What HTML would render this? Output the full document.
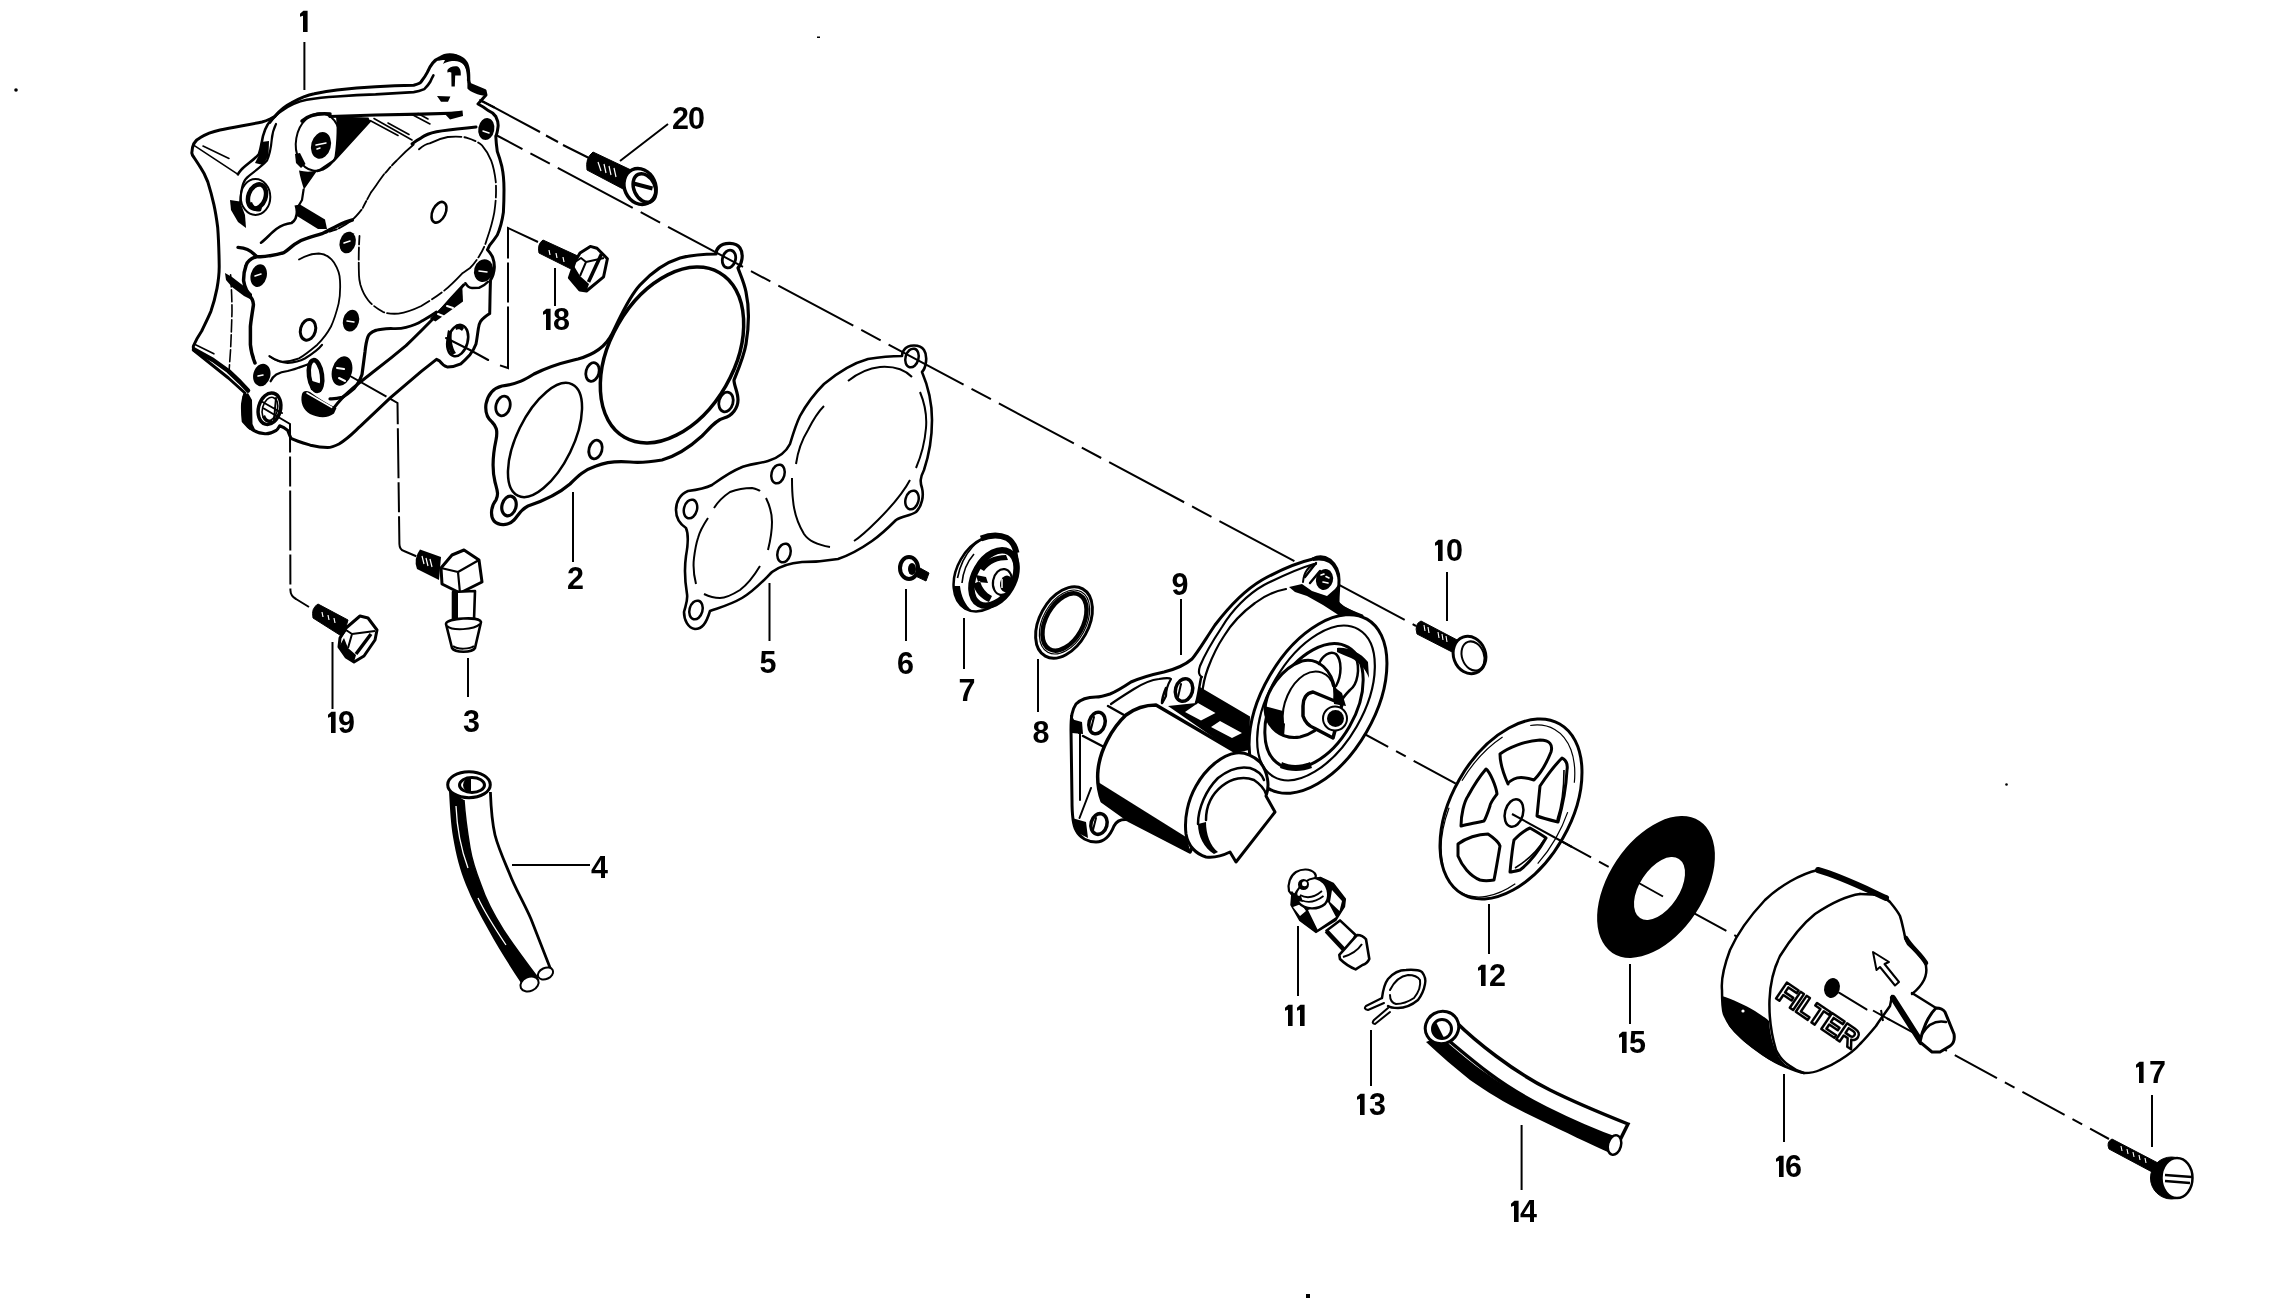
<!DOCTYPE html>
<html><head><meta charset="utf-8"><style>
html,body{margin:0;padding:0;background:#fff;}
body{width:2287px;height:1315px;overflow:hidden;}
svg{display:block;filter:grayscale(1);}
text{font-family:"Liberation Sans",sans-serif;font-weight:bold;font-size:30.5px;fill:#000;text-anchor:middle;letter-spacing:-1px;}
</style></head><body>
<svg width="2287" height="1315" viewBox="0 0 2287 1315">
<rect width="2287" height="1315" fill="#fff"/>
<g id="dots" fill="#000">
<rect x="817" y="36.5" width="3" height="1.5"/>
<circle cx="16" cy="90" r="1.8"/>
<rect x="1306" y="1294" width="4" height="4"/>
<circle cx="2006.5" cy="784.5" r="1.3"/>
</g>
<g id="labels">
<text x="575" y="589">2</text>
<text x="471" y="732">3</text>
<text x="599" y="878">4</text>
<text x="767.5" y="673">5</text>
<text x="905" y="674">6</text>
<text x="966.5" y="701">7</text>
<text x="1040.5" y="743">8</text>
<text x="1179.5" y="595">9</text>
<text x="688" y="129">20</text>
<text x="1462" y="561" style="text-anchor:end">0</text>
<text x="1505" y="986" style="text-anchor:end">2</text>
<text x="1385" y="1115" style="text-anchor:end">3</text>
<text x="1536" y="1222" style="text-anchor:end">4</text>
<text x="1645" y="1053" style="text-anchor:end">5</text>
<text x="1801" y="1177" style="text-anchor:end">6</text>
<text x="2165" y="1083" style="text-anchor:end">7</text>
<text x="569" y="330" style="text-anchor:end">8</text>
<text x="354" y="733" style="text-anchor:end">9</text>
<g fill="#000"><path d="M300.0 13.7 L303.4 10.7 L307.6 10.7 L307.6 32 L303.0 32 L303.0 15.7 L300.0 16.7Z"/><path d="M1435.0 542.7 L1438.4 539.7 L1442.6 539.7 L1442.6 561 L1438.0 561 L1438.0 544.7 L1435.0 545.7Z"/><path d="M1285.0 1007.7 L1288.4 1004.7 L1292.6 1004.7 L1292.6 1026 L1288.0 1026 L1288.0 1009.7 L1285.0 1010.7Z"/><path d="M1297.0 1007.7 L1300.4 1004.7 L1304.6 1004.7 L1304.6 1026 L1300.0 1026 L1300.0 1009.7 L1297.0 1010.7Z"/><path d="M1478.0 967.7 L1481.4 964.7 L1485.6 964.7 L1485.6 986 L1481.0 986 L1481.0 969.7 L1478.0 970.7Z"/><path d="M1357.0 1096.7 L1360.4 1093.7 L1364.6 1093.7 L1364.6 1115 L1360.0 1115 L1360.0 1098.7 L1357.0 1099.7Z"/><path d="M1511.0 1203.7 L1514.4 1200.7 L1518.6 1200.7 L1518.6 1222 L1514.0 1222 L1514.0 1205.7 L1511.0 1206.7Z"/><path d="M1619.0 1034.7 L1622.4 1031.7 L1626.6 1031.7 L1626.6 1053 L1622.0 1053 L1622.0 1036.7 L1619.0 1037.7Z"/><path d="M1776.0 1158.7 L1779.4 1155.7 L1783.6 1155.7 L1783.6 1177 L1779.0 1177 L1779.0 1160.7 L1776.0 1161.7Z"/><path d="M2136.0 1064.7 L2139.4 1061.7 L2143.6 1061.7 L2143.6 1083 L2139.0 1083 L2139.0 1066.7 L2136.0 1067.7Z"/><path d="M543.0 311.7 L546.4 308.7 L550.6 308.7 L550.6 330 L546.0 330 L546.0 313.7 L543.0 314.7Z"/><path d="M328.0 714.7 L331.4 711.7 L335.6 711.7 L335.6 733 L331.0 733 L331.0 716.7 L328.0 717.7Z"/></g>
</g>
<g id="leaders" stroke="#000" stroke-width="2" fill="none">
<path d="M304.4 42V90M620 161L668 124M555 268V306M573 492V562M332.5 642V709M468 658V697M512 865H590M769.5 583V641M906 589V641M964 618V669M1038 659V712M1181 599V655M1447 572V621M1298 926V996M1489 904V954M1371 1030V1086M1521.6 1125V1190M1630 964V1024M1784 1074V1142M2152 1095V1147"/>
</g>
<g id="dashes" stroke="#000" stroke-width="2" fill="none">
<path d="M456 87 L540 132 M546 135.5 L558 142 M563 145 L590 158.5"/>
<path d="M496 135L1416 626" stroke-dasharray="85 9 22 9" stroke-dashoffset="55"/>
<path d="M1346 724L2109 1139" stroke-dasharray="48 9 11 9"/>
</g>


<g id="part1" stroke="#000" fill="none" stroke-linejoin="round" stroke-linecap="round">
<path fill="#fff" stroke-width="3" d="M191.8 153 C192 146 195 140 200 137.8 C206 134 212 131.7 220 130 C235 127 250 124.5 262 122 C266 121 268 120 270 119 L274.7 116.5 C280 110 285 106 291.5 102.8 C300 98 307 95 314.3 93.7 C325 91.5 332 90.5 337 89.9 C350 88.5 360 87.6 375.6 86.8 C390 86 405 85.5 413.7 85.3 C418 84 421 82.5 421.3 81.5 C424 78 426 75 427.3 72.4 C430 66 434 60 439.5 58 C444 55 448 54.5 451.7 54.9 C456 55.5 459 57 460.8 58.7 C464 62 466 64 467 67.8 C468.5 72 468.6 76 468.4 80 C469 82 469.5 83.5 470 84.5 L485 90.6 L486 95 L478 104 C482 106 485 108 488 110.4 C492 112 494 114 495.8 116.5 C497.5 120 498.5 124 498 127 C497.5 131 497 134 495.8 136.3 C496 141 496.5 146 497.3 151.5 C499 156 500.5 161 501.9 166.7 C503.5 174 504 182 504 189.5 C504 197 503.8 205 503.4 212.3 C502 222 500 229 497.3 235 C494 240 491.5 243 489.7 245.2 L487.4 249.8 C489.5 252 491.5 254.5 492.7 257.4 C494 261 494.5 265 494.3 268 C494 273 492.5 277 490.5 280.2 C490 292 490 303 489.7 313.6 C486 316 483 318 480.6 321.3 C479 324 478.5 326 478.3 329 C477.5 334 477 339 476 344 C474.5 348 472.5 351.5 470 354.7 C467 358 464 361 460.8 363.8 C456 366 451 367 447.1 366.9 C444 366 441.5 363.5 439.5 360.8 L436.5 359.3 L421.3 371.4 L390.8 397.3 L360.4 426.2 C355 431 349 438 339 444 C335 446 331 447.5 327.6 447.5 C322 447.5 316 446.5 310.5 445.2 C303 443 296 441 291 438.4 C289.5 435 288.5 432.5 287.7 430.4 C285 428 282 426.5 279.7 425.8 C278.5 428 277.5 429.5 276.3 430.4 C272 433 268 434 265 433.8 C261 433.5 257 432.5 253.5 430.4 C249 428 246 425 243.2 421.3 C242.5 415 242.3 409 242.5 404 C243 399 244 396 245 393 L228.4 378 L194 350.5 C193.3 349 193.2 347.5 193.4 346 C196 340 199 335 201.7 331 C205 324 208 318 210.9 311.3 C213.5 304 215.5 296 217 288.4 C218.5 280 219.3 272 219.2 265.6 C219 250 218.5 238 217.7 227.5 C216.5 218 215.3 211 213.9 204.7 C212 196 210 189 207.8 181.9 C205.5 176 203 171 200 166.7 C198 163.5 196 160.5 194 157.5 C192.8 156 192 154.5 191.8 153Z"/>
<!-- bracket lines -->
<path stroke-width="2.6" d="M270 122.6 C274 117 278 113 282.3 110.4 C290 105 298 101.5 306.7 99.8 C318 97.8 328 97 337 96.5 C350 95.5 362 94.8 375.6 94.4 C390 93.6 402 92.8 413.7 92.1 C418 91.5 421 90.5 424.3 89.1 C427 86.5 429 84 430.4 81.5 C431.5 79 432.5 77 433.4 75.4"/>
<path stroke-width="2.6" d="M274.7 116.5 C269 121 265 128 263 136 C261.5 143 261 148 259 154 C256 158 250 162 243 168 C240 171 238.5 173 238 174.3"/>
<path stroke-width="2.2" d="M276 124 C273 130 272 136 271.7 140 C271 148 270 154 267 160.6 C264 164 258 169 249 175.8 C246 178 244 181 243 184 C241 190 240.5 197 240 204.7"/>
<path fill="#000" stroke="none" d="M261 142 L269 141 L268.5 156 L263 165 L255 163 L259 155Z"/>
<path stroke-width="1.6" d="M194 145.4 L238 174.3 M203 146 L229 158.5"/>
<path stroke-width="3.2" d="M330 116.5 L375.6 115 L421.3 114.2 L459.3 113"/>
<path fill="#000" stroke="none" d="M444 113 L462.5 110.5 L463 116 L450 119.5Z"/>
<!-- ear -->
<path fill="#000" stroke="none" d="M438 58.4 C442 55 448 53.3 454 53.8 C460 54.8 465 58 467.5 62 C469.8 66 470.6 72 470.3 81.5 L467.5 81.5 C467.5 74 466.5 68.5 464 65 C461 61.5 457 60.5 452 61 C448 61.5 445 62.5 443 64 L445 60 C442 60 440 60 438.5 61Z M447.4 70 C449 67 453 65.8 457 66.3 C460 67.3 461.2 71 460.8 75.4 L455.2 75.4 L454.8 86.5 L451.5 86.5 L451.3 72.5 C450 71.8 448.7 71.8 447.4 72.5Z M437 96 L450.4 96.5 L448 101.8 L441 101.8Z M467.4 81.5 C472 86 478 89.5 485.7 91.5 L485.7 95.8 C478 95 471 92.5 467.4 88.5Z M479 99 L495 106.5 L494 108.5 L480 101.5Z"/>
<!-- upper boss -->
<ellipse cx="318" cy="142" rx="22" ry="29" transform="rotate(10 318 142)" stroke-width="2"/>
<path stroke-width="3.5" d="M302 121 C308 115.5 318 113 330 114"/>
<ellipse cx="321" cy="145.4" rx="9.8" ry="13.5" transform="rotate(15 321 145.4)" fill="#000" stroke="none"/>
<path stroke="#fff" stroke-width="1.5" d="M316 145 L326 143 M317 149 L320 148"/>
<path fill="#000" stroke="none" d="M295 154 L300 153 L305.5 164 L301 168 L296 163Z"/>
<path fill="#000" stroke="none" d="M299 170.5 C305 172 311 172 317.3 170.5 L304 189.5 C302 183 300 177 299 170.5Z"/>
<path fill="#000" stroke="none" d="M336 116.5 L368.5 117.5 L370 121 L334 160.5 C336 148 337.5 130 336 116.5Z"/>
<path stroke-width="2.5" d="M370 121 L334 160.5 L320 170 L317.3 171"/>
<path stroke-width="1.6" d="M371 121 L398 135.5 M374 118.5 L412 140 M388 123 L409 134.5 M412 114.5 L430 124 M418 113.5 L428 119"/>
<!-- left boss -->
<ellipse cx="255.5" cy="197" rx="14.8" ry="18" stroke-width="2"/>
<ellipse cx="257" cy="196.5" rx="8.5" ry="12.5" transform="rotate(20 257 196.5)" stroke-width="4.5"/>
<path fill="#000" stroke="none" d="M249 203 C251 210 256 213 261 211 L262 207.5 C258 209 254 207 252 202Z"/>
<path fill="#000" stroke="none" d="M230 200 L240 201.5 L245 215 L246 228 L238 222 L231 210Z"/>
<!-- cylinder area -->
<path stroke-width="2.2" d="M303.6 189.5 L302 200 L297.5 207.7"/>
<path fill="#000" stroke="none" d="M294.5 205.5 L300 204.5 L325 219.5 L327 229 L318 229 L297 216Z"/>
<path stroke-width="1.8" stroke-dasharray="30 2 8 2" d="M413.7 144.5 C407 150 401 156 396.7 160.5 C392 165 388 170 384 174.3 C379 181 375 187 371 192.4 C368 198 365 203 362.6 208.4 C359 213 356 217 352 220 C347 224 342 227 336 229.7 C332 231 328 232 325.3 232.9"/>
<path stroke-width="2.6" d="M261 242.7 C266 239 271 233 276.3 229 C282 225 287 223.5 291.5 223 C295 221 297 216 297 210"/>
<path stroke-width="3.4" d="M238 247.4 C245 248 250 249.5 256.5 256.5 C262 257 266 256.5 270 255.7 C276 255 280 254 283.9 252.7 C288 250 291 247 294.5 244.3 C299 241 302 239.5 306.7 238.3 C313 236.5 318 235 322 233.7 C328 231 332 228.5 337 226 C343 223 348 221 352.3 220"/>
<!-- big cover -->
<path stroke-width="3" d="M476 127 L467 127.9 C455 129 445 130 436.5 131.7 C430 133 425 135 421.3 137.8 C418 139.5 415 141.5 412 143.9"/>
<path stroke-width="1.8" stroke-dasharray="45 3 12 3" d="M419 149.3 C424 145 428 143.5 429.7 143.4 C436 140 442 138 447.8 137 C455 136.5 462 136.5 467 137.8 C474 140 478 142 482 145.4 C486 150 489 155 491.2 160.6 C494 168 495 175 495.8 181.9 C496.5 195 495.5 204 494.3 212.3 C492 225 489 233 486.7 239.7 C484 250 476 262 470 268 C466 271 464 272 462.3 273.3 C455 281 450 286 444 290.8 C436 297 428 302 421.3 306 C413 310 406 312.5 398.4 313.6 C392 314 387 313.5 383.2 312 C376 308 371 304 368 300 C364 295 362 290 360.4 284.8 C359.5 281 359 278 359 275.6 C358.5 262 358.7 248 359.5 236"/>
<ellipse cx="439" cy="212.3" rx="6.5" ry="11" transform="rotate(25 439 212.3)" stroke-width="2.6"/>
<ellipse cx="486.3" cy="129" rx="8" ry="11" transform="rotate(10 486.3 129)" fill="#000" stroke="none"/>
<path stroke="#fff" stroke-width="1.5" d="M483 131 L489 133"/>
<ellipse cx="483.6" cy="270.7" rx="9.5" ry="11.5" transform="rotate(15 483.6 270.7)" fill="#000" stroke="none"/>
<path stroke="#fff" stroke-width="1.5" d="M479 271 L487 272"/>
<path stroke-width="2.5" d="M465.4 283.2 C467 286 469 288 472 288 L479 287.8 C483 286 486 284 488 281.7"/>
<!-- small cover -->
<path stroke-width="3.5" d="M256.5 256.5 C250 259 247 262 246 265.6 C244 271 243.5 276 243.6 280.8 C245 290 249 295 252 299 C253 301 253.5 303 253.4 305 C252 315 251 320 250.4 326.5 L250.4 344.7 C251 352 253 358 255 363"/>
<path stroke-width="1.8" d="M299 259.5 C305 256 312 253.5 318.8 253.5 C326 254 331 258 334 262.6 C338 269 340 275 340 280.8 C340.5 290 340 297 338.6 303.6 C336.5 312 334 320 331 326.5 C327 334 322 340 317.3 344.7 C311 350 305 355 299 358.4 C292 361 285 362 279.3 361.4 C276 360.5 273 359 270.2 356.9"/>
<ellipse cx="258.7" cy="275.6" rx="8" ry="11.5" transform="rotate(15 258.7 275.6)" fill="#000" stroke="none"/>
<ellipse cx="347.7" cy="242.5" rx="8" ry="11" transform="rotate(15 347.7 242.5)" fill="#000" stroke="none"/>
<ellipse cx="351" cy="320.7" rx="8" ry="11" transform="rotate(15 351 320.7)" fill="#000" stroke="none"/>
<ellipse cx="261.8" cy="375" rx="8.5" ry="11.5" transform="rotate(15 261.8 375)" fill="#000" stroke="none"/>
<path stroke="#fff" stroke-width="1.5" d="M255 276 L261 274 M344 243 L350 241 M347 321 L354 322 M258 376 L263 375"/>
<ellipse cx="308" cy="329.8" rx="7.5" ry="10.5" transform="rotate(15 308 329.8)" stroke-width="3"/>
<path fill="#000" stroke="none" d="M225 273 L232 277 L245 287 L252 294 L252 300 L244 296 L232 287 L226 280Z"/>
<path stroke-width="1.6" stroke-dasharray="12 3" d="M230.6 274.8 C231.5 290 232 300 232 311.3 C231.5 330 231 340 230.6 349.3 L229 372"/>
<path stroke-width="1.6" d="M195.6 344.7 L213.9 353.8"/>
<path stroke-width="4.5" d="M194 349.5 L213 360 L228.4 371 L240 382 L248 390.5"/>
<!-- bottom features -->
<path stroke-width="3.2" d="M375.6 330.4 C371 332 369 334 368 336.5 C366 342 365.5 347 365 351.7 L362 374.5 C360 380 358 384 354.3 388.2 C350 392 346 395 342.2 397.3 C338 398.5 334 399 330 398.8"/>
<path stroke-width="2.8" d="M375.6 330.4 C381 329 385 328.8 390.8 328.5 C397 329 402 328.5 406 327.3 C413 325.5 418 323.5 421.3 321.3 C427 318 431 316 436.5 312"/>
<path stroke-width="2.2" d="M270.6 381.3 C272 378 274 376 276.3 374.5 C280 372.5 284 371.5 287.7 371 C292 370 296 369 299 367.6 C302 366.5 305 365.5 308.2 364.2"/>
<path stroke-width="2.2" d="M269.4 356.2 C275 360 281 362.5 287.7 363 C294 362.5 300 361 304.8 358.5 C312 354 318 350 322 344.8"/>
<ellipse cx="315.5" cy="375.5" rx="6.5" ry="15.5" transform="rotate(-8 315.5 375.5)" stroke-width="4.5"/>
<path fill="#000" stroke="none" d="M309 380 L322 384 L321 392 L311 390Z"/>
<ellipse cx="342" cy="371" rx="10" ry="15" transform="rotate(15 342 371)" fill="#000" stroke="none"/>
<path stroke="#fff" stroke-width="2" d="M337 368 L344 369 M339 378 L345 381"/>
<path fill="#000" stroke="none" d="M302 394 C300 402 303 410 310 414 C318 418 328 418.5 334 413.5 L336.5 408 C328 404 318 398 310 392 C306 390 303 391 302 394Z"/>
<path stroke="#fff" stroke-width="1.6" d="M307 393 L333 408"/>
<path stroke-width="3" d="M463.8 284.8 C455 294 446 304 436.5 315.2 C426 326 416 336 406 345.6 C396 354 386 362 375.6 370 C368 376 360 382 352.8 388.2 C346 394 339 401 333.3 408.7"/>
<path fill="#000" stroke="none" d="M462.3 287 L463 301.5 L435.5 321.5 L430 318.5Z"/>
<path stroke="#fff" stroke-width="2" d="M447 306 L453 308 M438 314 L443 316"/>
<ellipse cx="457.7" cy="340.6" rx="10" ry="16" transform="rotate(15 457.7 340.6)" stroke-width="2.6"/>
<path fill="#000" stroke="none" d="M448 330 C446 338 447 348 452 355 L456 353 C452 347 451 339 452 332Z M455 326 C458 324 462 325 464 328 L462 331 C460 329 458 329 456 330Z"/>
<path stroke-width="2" d="M446 338 L470 350 L488.2 360"/>
<ellipse cx="269.5" cy="408.7" rx="11" ry="16" transform="rotate(15 269.5 408.7)" stroke-width="3.5"/>
<ellipse cx="270" cy="409" rx="7.5" ry="12" transform="rotate(15 270 409)" stroke-width="1.6"/>
<path fill="#000" stroke="none" d="M242.5 396 L248 393 L252 400 L252.5 424 L256 431.5 L249 429.5 L243.5 421Z"/>
<path fill="#000" stroke="none" d="M262 417 C264 422 268 424 273 423 L272 420 C268 420 266 418 265 415Z"/>
<path stroke-width="2" d="M262.6 402 L282 413 M276 398 L274 420"/>
</g>
<g id="brackets" stroke="#000" stroke-width="2" fill="none">
<path d="M263 408 L290 424 L290.4 590 Q290.5 596 296 599 L309 607" stroke-dasharray="60 4 30 4"/>
<path d="M343 372 L397.5 403 L399.4 544 Q399.6 550 404 551 L418 557" stroke-dasharray="50 4 30 4"/>
<path d="M500 365.4 L508 368 L508 228 L538 242" stroke-dasharray="70 4 40 4"/>
</g>

<g id="filter16" stroke="#000" fill="none" stroke-linejoin="round" stroke-linecap="round">
<path fill="#fff" stroke="none" d="M1818 870 C1800 874 1780 886 1765 900 C1750 916 1738 932 1730 950 C1724 966 1721 980 1722 990 C1722 1000 1722 1008 1724 1014 C1728 1024 1733 1030 1740 1036 C1748 1044 1755 1048 1760 1052 C1768 1058 1776 1063 1784 1066 C1791 1069 1798 1072 1804 1073 C1812 1073 1818 1071 1820 1070 C1840 1060 1860 1044 1876 1026 L1892 996 L1912 994 C1920 988 1926 978 1926 966 C1926 958 1915 950 1908 944 C1904 934 1902 920 1890 902 L1886 898Z"/>
<path stroke-width="2.5" d="M1818 870 C1800 874 1780 886 1765 900 C1750 916 1738 932 1730 950 C1724 966 1721 980 1722 990 C1722 1000 1722 1008 1724 1014 C1728 1024 1733 1030 1740 1036 C1748 1044 1755 1048 1760 1052 C1768 1058 1776 1063 1784 1066 C1791 1069 1798 1072 1804 1073"/>
<path stroke-width="6" d="M1818 870 C1840 876 1864 888 1886 898"/>
<path stroke-width="2.5" d="M1860 894 C1845 896 1830 904 1815 914 C1800 926 1790 940 1780 956 C1773 970 1770 985 1769.5 1000 C1769 1015 1770 1030 1776 1050 C1780 1058 1785 1063 1790 1066 C1795 1070 1800 1072 1804 1073 C1812 1073 1818 1071 1820 1070 C1828 1067 1834 1064 1840 1060 C1848 1055 1855 1050 1860 1044 C1866 1038 1871 1032 1876 1026 C1881 1018 1886 1012 1890 1006 L1892 996"/>
<path stroke-width="2.5" d="M1860 894 C1868 894 1875 894 1880 896 C1885 898 1888 900 1890 902 C1895 908 1898 912 1900 916 C1902 922 1903 928 1904 932 C1905 938 1906 941 1908 944 C1913 949 1917 952 1920 956 C1924 960 1926 963 1926 966 C1927 972 1926 976 1924 980 C1921 986 1917 990 1912 994"/>
<path stroke-width="4.5" d="M1906 938 C1911 947 1920 953 1926 963"/>
<path fill="#000" stroke="none" d="M1722 996 C1732 999 1745 1005 1755 1011 C1761 1015 1766 1018 1769 1021 C1770 1034 1773 1047 1779 1057 C1783 1063 1788 1067 1793 1070 C1780 1066 1768 1060 1756 1051 C1745 1043 1735 1034 1729 1026 C1725 1018 1722 1008 1722 996Z"/>
<circle cx="1743" cy="1011" r="1.6" fill="#fff" stroke="none"/>
<text transform="translate(1774.5 997.5) rotate(34)" style="font-size:28px;text-anchor:start;letter-spacing:-0.6px;fill:#fff;stroke:#000;stroke-width:2.5px;stroke-linejoin:round">FILTER</text>
<ellipse cx="1832" cy="988" rx="7.8" ry="10" transform="rotate(15 1832 988)" fill="#000" stroke="none"/>
<path stroke-width="2" d="M1839 992.7 L1866.5 1009.4"/>
<path stroke-width="2" fill="#fff" d="M1873 952 L1876.5 970 L1880 967 L1895 985.5 L1899 982 L1884.5 964 L1889 962 Z"/>
<path stroke-width="6" d="M1893 998 L1921 1042"/>
<path stroke-width="2.5" d="M1912 993 L1936 1008"/>
<path stroke-width="3" fill="#fff" d="M1936 1008 C1940 1008 1943 1009 1945 1012 L1954 1034 C1955 1040 1953 1044 1950 1046 L1940 1052 L1932 1052 L1920 1042 C1922 1030 1928 1016 1936 1008Z"/>
<path stroke-width="2.5" d="M1922 1034 C1928 1024 1936 1020 1946 1022"/>
</g>
<g id="valve7" stroke="#000" fill="none" stroke-linejoin="round">
<ellipse cx="985.5" cy="573.5" rx="40.5" ry="28.5" transform="rotate(-60 985.5 573.5)" fill="#fff" stroke-width="2.5"/>
<path stroke-width="6" d="M981 538.5 C990 535 1000 535 1007 538 C1012 541 1015 546 1016.5 553"/>
<path stroke-width="1.6" d="M957.5 578 C960 565 966 554 972.4 547 C976 543 980 540.5 983.3 539.5"/>
<path stroke-width="1.6" d="M962 583 C963 572 967 562 974 554"/>
<path fill="#000" stroke="none" d="M953.5 586 C954 596 958 604 964 609 L972 611 C965 605 961 596 960 586Z"/>
<ellipse cx="994" cy="578" rx="30" ry="19.5" transform="rotate(-60 994 578)" stroke-width="6.5" fill="#fff"/>
<path fill="#000" stroke="none" d="M973 584 C975 592 981 599 989 602 L992 596 C986 593 982 588 980 581Z M979 568 C984 560 994 555 1006 555 L1008 560 C998 560 990 563 984 571Z M976 575 L986 577 L988 583 L978 582Z"/>
<ellipse cx="1002.5" cy="582" rx="9.5" ry="13" transform="rotate(10 1002.5 582)" fill="#fff" stroke-width="2.2"/>
<ellipse cx="1006.5" cy="584" rx="6.5" ry="8.5" transform="rotate(10 1006.5 584)" fill="#000" stroke="none"/>
<path stroke="#fff" stroke-width="1.5" d="M1002 579 L1002 588"/>
</g>
<g id="elbow3" stroke="#000" fill="none" stroke-linejoin="round">
<path fill="#000" stroke="none" d="M420 549.5 L441 557 L439 580 L417 569 Q413 559 420 549.5Z"/>
<path stroke="#fff" stroke-width="1.2" d="M422 556 l2 8 M426 558 l2 8 M430 559 l2 8"/>
<path fill="#fff" stroke-width="3" d="M441 568 L452 555 L464 550 L479 560 L482 582 L460 593 L442 584Z"/>
<path stroke-width="2.2" d="M441 568 L458 572 L479 560 M458 572 L460 593"/>
<path fill="#fff" stroke-width="2.6" d="M453 592 L475 591 L474 620 L453 624Z"/>
<path fill="#000" stroke="none" d="M452 593 L458 593 L458 624 L452 625Z"/>
<path fill="#fff" stroke-width="2.6" d="M446 624 C446 618 480 616 481 622 L475 648 C472 653 455 653 452 648Z"/>
<path stroke-width="2" d="M447 626 C452 631 474 630 480 624 M453 646 C458 650 470 649 474 646"/>
</g>
<g id="fitting11" stroke="#000" fill="none" stroke-linejoin="round">
<path fill="#000" stroke-width="1.5" d="M1291 905 L1299.8 920.4 L1316 932.4 L1335.8 920.4 L1344.4 906.7 L1345.3 899 L1333.3 883.5 L1320.4 877.5 L1305 880 L1292 892 Z"/>
<path fill="#fff" stroke="none" d="M1308 910 L1328 902 L1336 917 L1317.5 929.5Z M1332 890 L1342 901 L1339.5 911 L1330 902Z M1293 907 L1301 904 L1306 911 L1300 916Z"/>
<path fill="#fff" stroke-width="2.4" d="M1298 881 C1304 876 1316 876 1323 882 C1329 888 1330 898 1325 904 C1318 910 1305 910 1299 903 C1295 897 1295 887 1298 881Z"/>
<path stroke-width="1.8" d="M1300 895 C1307 899 1315 897 1322 891 M1302 900.5 C1309 903.5 1317 901 1323.5 896"/>
<path fill="#fff" stroke-width="2.2" d="M1289 891 C1287.5 884 1290 876 1296 872 C1302 868.5 1310 868.5 1314.5 873 C1316 875 1316 877 1315 878 C1308 879 1301 884 1297 891 C1295 896 1292 896 1289 891Z"/>
<path fill="#000" stroke="none" d="M1290 893 C1292 898 1297 901 1303 902 L1301 896 C1297 896 1294 894 1292 891Z"/>
<circle cx="1303.5" cy="884.5" r="5.5" fill="#000" stroke="none"/>
<circle cx="1304.5" cy="883.8" r="2.5" fill="#fff" stroke="none"/>
<path fill="#fff" stroke-width="2.5" d="M1326.4 930.7 L1340 920.4 L1355.6 935 L1347 953Z"/>
<path stroke-width="4.5" d="M1326.4 931 L1347 953"/>
<path fill="#fff" stroke-width="2.6" d="M1339.3 954.8 C1346 948 1352 940 1357.3 935 C1360 935 1363 935.5 1366 939.3 L1369.3 959 C1368 962 1366 964 1362.5 965 L1355.6 969.4 C1350 967 1344 963 1340 959Z"/>
<path stroke-width="2" d="M1343 957 C1350 955 1358 950 1362 944"/>
</g>
<g id="clip13" stroke="#000" fill="none" stroke-linejoin="round" stroke-linecap="round">
<path stroke-width="2.4" d="M1382 998 C1383 990 1385 983 1388 979 C1394 972 1400 970 1406 970 C1413 969.5 1419 970 1422 972 C1425 976 1426 980 1425 984 C1424 990 1421 996 1418 1000 C1412 1005 1405 1008 1398 1008 C1394 1008 1390 1007.5 1388 1006"/>
<path stroke-width="2" d="M1390 990 C1394 982 1400 976 1408 975 C1414 975 1418 977 1420 980 C1421 986 1418 993 1414 998 C1408 1002 1402 1004 1396 1004 C1392 1003 1390 999 1390 995"/>
<path stroke-width="2" d="M1382 998 L1366 1006 Q1363 1009 1368 1010 L1384 1003 M1388 1008 L1374 1020 Q1371 1023.5 1375 1024 L1390 1012"/>
</g>
<g id="screws" stroke="#000" stroke-linejoin="round">
<!-- screw 20 -->
<path d="M593 152 L631 170 L625 190 L587 170 Q585 158 593 152Z" fill="#000"/>
<path d="M598 162l3 9M604 164l2 9M609 166l2 9M614 168l2 9" stroke="#fff" stroke-width="1.2"/>
<ellipse cx="640" cy="186.5" rx="15.5" ry="18.5" transform="rotate(-25 640 186.5)" fill="#fff" stroke-width="3.5"/>
<ellipse cx="644.5" cy="188" rx="10.5" ry="15" transform="rotate(-25 644.5 188)" fill="none" stroke-width="3.5"/>
<path d="M633.5 183.5 L652.5 188.5" stroke-width="4" fill="none"/>
<!-- screw 18 -->
<path d="M543 240 Q537 244 539 253 L575 271 L580 257Z" fill="#000"/>
<path d="M549 250l1 5M556 253l1 5M563 257l1 5" stroke="#fff" stroke-width="1.2"/>
<path d="M580 253 L590.3 246.4 L597 248.3 L607.4 258.7 L603.6 276.8 L586.5 291 L579.8 290 L569.4 277.7 L575 261.6Z" fill="#fff" stroke-width="3"/>
<path d="M569.4 277.7 L579.8 290 L586.5 291 L589 284 L580 276 L574 266Z" fill="#000" stroke="none"/>
<path d="M575 262 L581 258 L586 262 L580 276 M586 262 L604 258" fill="none" stroke-width="2"/>
<path d="M588.5 282 L601.5 254" fill="none" stroke-width="3.6"/>
<!-- screw 19 -->
<path d="M318 604 Q311 608 313 618 L343 637 L348 620Z" fill="#000"/>
<path d="M322 612l1 5M328 615l1 5M334 618l1 5" stroke="#fff" stroke-width="1.2"/>
<path d="M346 628 L360 616 L368 618 L377 630 L375 640 L364 656 L354 662 L346 657 L339 647 L340 638Z" fill="#fff" stroke-width="3"/>
<path d="M339 647 L346 657 L354 662 L356 655 L348 648 L344 638Z" fill="#000" stroke="none"/>
<path d="M340 638 L346 630 L352 634 L348 648 M352 634 L375 631" fill="none" stroke-width="2"/>
<path d="M356 654 L371 634" fill="none" stroke-width="3.4"/>
<!-- screw 10 -->
<path d="M1421 621 Q1414 624 1417 634 L1456 654 L1461 642Z" fill="#000"/>
<path d="M1424 625l1 6M1428 627l1 6M1438 632l1 6M1442 634l1 6M1446 636l1 6" stroke="#fff" stroke-width="1.1"/>
<ellipse cx="1469.5" cy="655" rx="16" ry="19" transform="rotate(-20 1469.5 655)" fill="#fff" stroke-width="3"/>
<ellipse cx="1473" cy="656" rx="11" ry="15" transform="rotate(-20 1473 656)" fill="none" stroke-width="2"/>
<!-- screw 17 -->
<path d="M2112 1139 Q2106 1142 2109 1149 L2154 1173 L2158 1163Z" fill="#000"/>
<path d="M2121 1146l1 5M2127 1149l1 5M2133 1152l1 5M2139 1155l1 5M2145 1158l1 5" stroke="#fff" stroke-width="1.1"/>
<ellipse cx="2171.5" cy="1178" rx="21" ry="21" fill="#000" stroke-width="1"/>
<ellipse cx="2177" cy="1178" rx="15.5" ry="20" fill="#fff" stroke-width="2.5"/>
<path d="M2165 1175L2192 1177M2165 1181L2190 1183" stroke-width="2.5" fill="none"/>
<!-- screw 6 -->
<path d="M911 563 L929 573 L926 581 L909 573Z" fill="#000"/>
<ellipse cx="909" cy="568" rx="9" ry="11" fill="#fff" stroke-width="4"/>
<ellipse cx="912" cy="569" rx="4" ry="6" fill="#000" stroke="none"/>
</g>
<g id="gasket2" stroke="#000" fill="none" stroke-linejoin="round">
<path stroke-width="3.2" d="M716 254 C706 254 692 255 680 258 C664 263 652 272 640 285 C628 298 620 318 612 334 C606 346 596 354 578 359 C566 362 554 364 534 374 C526 379 518 384 502 386 C494 388 488 394 486 404 C485 412 487 418 492 422 C496 426 498 430 496 440 C493 454 492 470 495 482 C497 490 499 494 496 500 C491 506 490 516 494 521 C499 526 508 526 514 520 C518 516 520 510 528 506 C540 502 556 496 570 484 C578 476 584 470 596 466 C606 462 618 461 630 462 C640 463 650 462 662 460 C676 456 690 447 702 436 C710 428 716 420 724 418 C732 416 738 408 738 400 C738 392 734 386 734 380 C738 370 744 356 746 344 C749 326 749 306 746 292 C744 282 740 274 738 268 C742 264 744 254 740 248 C736 242 724 242 719 247 C716 250 716 252 716 254Z"/>
<ellipse cx="672" cy="355" rx="95" ry="62" transform="rotate(-60 672 355)" stroke-width="3.5"/>
<ellipse cx="545" cy="440" rx="62" ry="28" transform="rotate(-64 545 440)" stroke-width="2.5"/>
<ellipse cx="729" cy="259" rx="6.5" ry="9" transform="rotate(15 729 259)" stroke-width="2.8"/>
<ellipse cx="592.5" cy="372" rx="6.5" ry="9.5" transform="rotate(15 592.5 372)" stroke-width="2.8"/>
<ellipse cx="595.5" cy="449.5" rx="6.5" ry="9.5" transform="rotate(15 595.5 449.5)" stroke-width="2.8"/>
<ellipse cx="503" cy="406" rx="7" ry="10" transform="rotate(15 503 406)" stroke-width="2.8"/>
<ellipse cx="726" cy="402" rx="7" ry="10" transform="rotate(15 726 402)" stroke-width="2.8"/>
<ellipse cx="509" cy="506" rx="7" ry="10" transform="rotate(15 509 506)" stroke-width="3.2"/>
</g>
<g id="gasket5" stroke="#000" fill="none" stroke-linejoin="round">
<path stroke-width="2.6" d="M902 356 C894 356 880 357 868 359 C850 364 836 374 824 384 C814 394 806 405 800 416 C796 424 793 434 790 444 C786 452 778 458 768 461 C758 464 748 464 740 468 C730 472 722 478 712 485 C704 489 696 490 688 491 C680 494 676 502 676 510 C676 518 680 524 686 528 C689 535 688 545 686 556 C684 570 685 582 687 594 C688 600 686 604 684 612 C684 620 688 628 695 629 C702 629 706 624 710 611 C718 608 730 605 742 598 C754 591 762 582 772 572 C780 566 790 563 802 562 C814 562 826 561 838 559 C850 555 862 548 872 541 C882 534 890 526 896 520 C902 516 910 516 916 512 C922 506 924 496 922 488 C920 482 920 478 924 470 C928 458 932 440 932 420 C932 402 928 386 922 372 C926 368 928 356 924 350 C920 344 908 344 904 350 C902 352 902 354 902 356Z"/>
<path stroke-width="2" d="M848 381 C858 373 870 368 880 367 C894 366 905 370 912 377 M920 392 C925 404 927 416 926 428 C925 440 922 454 916 468 M910 480 C902 495 890 508 878 520 C870 528 862 536 854 541 M830 547 C818 545 808 540 804 534 C798 524 794 512 793 500 C792 492 792 485 792 478 M796 464 C798 450 803 438 808 430 C813 420 818 412 824 406"/>
<path stroke-width="2" d="M714 508 C719 500 724 496 730 492 C738 489 746 488 752 488 C756 489 759 490 760 491 M766 498 C770 506 772 514 772 522 C772 532 770 542 768 550 M760 566 C754 576 748 584 740 590 C732 595 726 598 720 598 C714 598 708 596 704 594 M696 584 C694 576 693 566 694 558 C695 550 696 544 698 538 C700 530 704 524 708 518"/>
<ellipse cx="912" cy="358" rx="6.5" ry="9.5" transform="rotate(15 912 358)" stroke-width="2.5"/>
<ellipse cx="778" cy="474" rx="6.5" ry="9.5" transform="rotate(15 778 474)" stroke-width="2.5"/>
<ellipse cx="784" cy="553" rx="6.5" ry="9.5" transform="rotate(15 784 553)" stroke-width="2.5"/>
<ellipse cx="690.5" cy="509" rx="6.5" ry="9.5" transform="rotate(15 690.5 509)" stroke-width="2.5"/>
<ellipse cx="912" cy="500" rx="6.5" ry="9.5" transform="rotate(15 912 500)" stroke-width="2.5"/>
<ellipse cx="696" cy="610" rx="6.5" ry="9.5" transform="rotate(15 696 610)" stroke-width="2.5"/>
</g>
<g id="oring8" fill="none" stroke="#000">
<ellipse cx="1064" cy="622.5" rx="38.5" ry="24.5" transform="rotate(-61 1064 622.5)" stroke-width="3"/>
<ellipse cx="1064.5" cy="622" rx="34.5" ry="21.5" transform="rotate(-61 1064.5 622)" stroke-width="1.2"/>
<ellipse cx="1064.5" cy="622" rx="31" ry="18.5" transform="rotate(-61 1064.5 622)" stroke-width="4.5"/>
</g>

<g id="part9" stroke="#000" fill="none" stroke-linejoin="round" stroke-linecap="round">
<!-- flange outer -->
<path stroke="none" fill="#fff" d="M1313 559 C1300 562 1280 570 1262 580 C1245 590 1228 608 1215 625 C1205 640 1198 652 1192 659 C1184 666 1172 670 1164 672 C1150 675 1138 679 1131 682 C1122 688 1115 692 1110 694 C1104 696 1100 697 1096 697 C1088 697 1080 700 1076 704 C1072 710 1071 716 1071 730 L1072 800 C1072 815 1073 825 1076 830 C1080 838 1088 842 1096 842 C1104 842 1110 836 1114 826 C1116 822 1120 818 1130 820 L1190 852 L1236 862 L1300 800 L1380 720 L1386 672 C1384 640 1374 624 1362 616 C1350 611 1340 607 1338 602 C1338 594 1339 588 1339 580 C1339 572 1336 565 1330 560 C1324 556 1318 556 1313 559Z"/>
<path stroke-width="3" d="M1362 616 C1350 611 1340 607 1338 602 C1338 594 1339 588 1339 580 C1339 572 1336 565 1330 560 C1324 556 1318 556 1313 559 C1300 562 1280 570 1262 580 C1245 590 1228 608 1215 625 C1205 640 1198 652 1192 659 C1184 666 1172 670 1164 672 C1150 675 1138 679 1131 682 C1122 688 1115 692 1110 694 C1104 696 1100 697 1096 697 C1088 697 1080 700 1076 704 C1072 710 1071 716 1071 730 L1072 800 C1072 815 1073 825 1076 830 C1080 838 1088 842 1096 842 C1104 842 1110 836 1114 826 C1116 822 1120 818 1130 820"/>
<path stroke-width="2.2" d="M1314 564 C1300 568 1282 576 1264 585 C1248 594 1232 610 1222 627 C1212 642 1205 654 1200 666 C1198 672 1199 676 1202 677"/>
<path stroke-width="2.2" d="M1286 589 C1275 591 1264 596 1255 603 C1240 614 1230 626 1224 636 C1216 648 1211 660 1208 668 C1205 676 1203 684 1202 695"/>
<path stroke-width="2.2" d="M1111 704 C1118 699 1126 694 1134 689 C1142 684 1150 680 1159 679 C1165 678 1170 678 1171 679 C1168 684 1166 690 1166 696 C1164 700 1163 702 1162 703"/>
<path stroke-width="2" d="M1080 733 L1080 800M1079 733 L1071 716M1079.5 818 L1091 788"/>
<path stroke-width="2.5" d="M1083 736 L1104 747M1108 706 L1124 715"/>
<!-- black wedge under top ear -->
<path fill="#000" stroke="none" d="M1289 587 L1302 584 L1312 591 L1327 596 L1335 589 L1338 585 L1338 602 L1345 607 L1363 616 L1340 616 L1323 605 L1307 596 L1295 592Z"/>
<path fill="#000" stroke="none" d="M1312 557.5 C1318 555 1326 556 1332 561 C1336 565 1339 570 1339.6 576 L1337 577 C1336 571 1333 566 1329 563 C1324 560 1318 560 1313 561Z"/>
<ellipse cx="1324.5" cy="579.5" rx="8.5" ry="10.5" transform="rotate(15 1324.5 579.5)" fill="#000" stroke="none"/>
<path stroke="#fff" stroke-width="1.6" d="M1321 575 L1324 574 M1326 576.5 L1329 578 M1323 582 L1328 583"/>
<path stroke-width="2.4" d="M1305 577 L1316 563 M1310 583 L1320 571"/>
<path d="M1303 582 C1304 572 1308 566 1316 564" stroke-width="2"/>
<!-- top black band + windows -->
<path fill="#000" stroke="none" d="M1168 706 L1196 703 L1199 686.5 L1250 716.5 L1249 750 L1236 753 Z"/>
<path fill="#fff" stroke="none" d="M1185 712 L1198 703 L1215.5 713 L1201 720.5Z M1211 727 L1220 721 L1242 733 L1232 738Z"/>
<!-- middle ear -->
<path stroke-width="2.5" d="M1166 688 C1163 695 1162 700 1162 703 M1196 703 C1198 697 1199 688 1201 678"/>
<ellipse cx="1184" cy="690" rx="8.5" ry="11.5" transform="rotate(15 1184 690)" stroke-width="3.5" fill="#fff"/>
<path d="M1181 684 L1178 697" stroke-width="2"/>
<!-- left ear holes -->
<ellipse cx="1097" cy="723" rx="8" ry="11" transform="rotate(15 1097 723)" stroke-width="3.5" fill="#fff"/>
<path d="M1094 717 L1091 729" stroke-width="2"/>
<path fill="#000" stroke="none" d="M1071 719 L1082 722 L1083 734 L1072 733Z"/>
<ellipse cx="1099" cy="824" rx="8" ry="10.5" transform="rotate(15 1099 824)" stroke-width="3.5" fill="#fff"/>
<path d="M1096 818 L1093 830" stroke-width="2"/>
<path fill="#000" stroke="none" d="M1072 818 L1086 822 L1088 838 L1076 832Z"/>
<!-- cylinder -->
<path stroke-width="3.5" fill="#fff" d="M1126 715 C1134 709 1145 705 1156 705 L1236 752 L1190 852 L1130 821 L1102 801 C1098 790 1097 780 1098 770 C1100 750 1112 728 1126 715Z"/>
<path fill="#000" stroke="none" d="M1098 782 L1186 837 L1191 853 L1130 822 L1102 802 Z"/>
<!-- round cover -->
<ellipse cx="1318" cy="704" rx="98" ry="56" transform="rotate(-60 1318 704)" stroke-width="3" fill="#fff"/>
<ellipse cx="1316" cy="703" rx="85" ry="47" transform="rotate(-60 1316 703)" stroke-width="2.2"/>
<ellipse cx="1314" cy="706" rx="68" ry="41" transform="rotate(-60 1314 706)" stroke-width="3"/>
<path fill="#000" stroke="none" d="M1337 648 C1348 647 1360 652 1368 662 L1369 678 C1365 668 1359 662 1351 658 C1346 656 1341 654 1337 652Z"/>
<path fill="#000" stroke="none" d="M1280 768 C1290 772 1302 772 1312 768 L1310 762 C1300 766 1290 766 1282 762Z"/>
<path stroke-width="3" fill="#fff" d="M1265 709 C1266 690 1282 668 1302 661 C1318 657 1332 670 1335 690 C1337 710 1322 732 1300 737 C1282 740 1266 728 1265 709Z"/>
<path stroke-width="2" d="M1283 722 C1281 705 1290 684 1304 675 C1316 668 1330 672 1333 686"/>
<path fill="#000" stroke="none" d="M1264 706 C1265 720 1272 731 1284 737 L1285 724 C1281 720 1282 714 1283 711Z"/>
<path stroke-width="2.5" d="M1319 664 C1322 656 1330 650 1336 654 C1342 660 1342 675 1336 686 M1356 658 C1360 668 1358 684 1350 690 C1346 694 1343 698 1342 700"/>
<path stroke-width="3.5" fill="#fff" d="M1313 692 C1306 693 1303 699 1303 706 L1303 716 C1305 722 1309 726 1314 728 L1333 738 L1342 704 Z"/>
<path fill="#000" stroke="none" d="M1333 686 L1342 693 L1346 706 L1334 704Z"/>
<circle cx="1335" cy="718.5" r="12" fill="#fff" stroke-width="2"/>
<circle cx="1335.5" cy="718.5" r="8.5" fill="#000" stroke="none"/>
<!-- front cap -->
<path stroke-width="3" fill="#fff" d="M1236 862 L1275 812 L1266 796 C1270 786 1268 772 1260 762 C1252 755 1244 752 1236 753 C1222 755 1206 768 1196 786 C1188 800 1184 818 1186 834 C1188 846 1196 854 1206 857 C1214 858 1222 856 1230 852 Z"/>
<path stroke-width="2.5" d="M1198 824 C1198 808 1206 790 1218 778 C1228 770 1240 766 1250 768 C1256 770 1262 774 1264 780"/>
<path stroke-width="2.5" d="M1206 820 C1206 806 1212 794 1222 786 C1232 778 1244 776 1254 780 C1260 784 1264 788 1266 794"/>
<path fill="#000" stroke="none" d="M1198 824 C1198 836 1204 848 1214 854 L1218 852 C1210 846 1206 834 1206 822Z"/>
</g>
<g id="washer15">
<path fill-rule="evenodd" fill="#000" d="M0 0Z"/>
<ellipse cx="1656" cy="887" rx="79" ry="47.5" transform="rotate(-56.5 1656 887)" fill="#000"/>
<ellipse cx="1659.5" cy="888.5" rx="35.4" ry="19.8" transform="rotate(-56.7 1659.5 888.5)" fill="#fff"/>
</g>
<g id="screen12" fill="none" stroke="#000" stroke-linejoin="round">
<ellipse cx="1511" cy="809" rx="98" ry="59.5" transform="rotate(-60.2 1511 809)" stroke-width="3" fill="#fff"/>
<ellipse cx="1508" cy="811" rx="94" ry="55" transform="rotate(-60.2 1508 811)" stroke-width="1.2" stroke-dasharray="60 30"/>
<path stroke-width="3" d="M1500 754 C1508 748 1524 741 1540 740 C1550 740 1553 745 1551 752 C1547 762 1540 774 1534 780 C1528 778 1520 776 1514 779 C1510 781 1508 783 1508 784 C1504 775 1500 762 1500 754Z"/>
<path stroke-width="3" d="M1486 769 C1490 772 1496 786 1497 794 C1494 798 1490 803 1490 806 C1488 812 1486 818 1484 821 C1474 823 1466 825 1461 826 C1461 815 1464 802 1468 796 C1474 785 1480 776 1486 769Z"/>
<path stroke-width="3" d="M1458 844 C1466 838 1478 834 1488 834 C1494 838 1499 843 1500 846 C1498 858 1496 870 1494 880 C1488 881 1484 881 1480 880 C1470 876 1462 866 1458 856Z"/>
<path stroke-width="3" d="M1514 840 C1520 834 1525 830 1530 828 C1537 832 1542 835 1546 838 C1538 852 1528 864 1520 870 C1516 871 1512 872 1510 872 C1511 862 1512 850 1514 840Z"/>
<path stroke-width="3" d="M1540 786 C1548 774 1556 764 1562 758 C1566 760 1568 764 1567 770 C1566 790 1562 808 1558 822 C1550 820 1542 818 1537 816 C1538 806 1539 796 1540 786Z"/>
<path stroke-width="1.6" d="M1557 820 C1561 808 1564 790 1564 770M1515 868 C1528 860 1538 850 1544 840"/>
<ellipse cx="1514" cy="813" rx="9" ry="14" transform="rotate(15 1514 813)" stroke-width="2.5"/>
</g>
<g id="tube4">
<path d="M449 791 C450 810 451 825 453 837 C456 855 460 870 466 885 C472 900 480 915 488.5 930 C498 948 510 966 521 983 L538 978 C527 962 515 946 503.4 930 C494 915 486 900 481 885 C476 872 472 860 470 848 C467 830 465 815 464 800Z" fill="#000"/>
<path d="M464 790 L464 800 C465 815 467 830 470 848 C472 860 476 872 481 885 C486 900 494 915 503.4 930 C514 946 526 962 538 978 L552.5 974 C545 955 538 937 531 919 C523 901 515 888 509.5 873.5 C503 858 498 847 495 835 C492 822 491 808 490.4 790Z" fill="#fff"/>
<path d="M538 978 C526 962 514 946 503.4 930 C494 915 486 900 481 885 C476 872 472 860 470 848 C467 830 465 815 464 800" fill="none" stroke="#000" stroke-width="1.5"/>
<path d="M552.5 974 C545 955 538 937 531 919 C523 901 515 888 509.5 873.5 C503 858 498 847 495 835 C492 822 491 808 490.4 792" fill="none" stroke="#000" stroke-width="2.8"/>
<path d="M456 806 C457 830 462 852 468 868 M478 898 C486 915 496 930 506 945" stroke="#fff" stroke-width="1.3" fill="none"/>
<ellipse cx="469" cy="784.7" rx="21.3" ry="13" fill="#fff" stroke="#000" stroke-width="3"/>
<ellipse cx="472" cy="785" rx="12.5" ry="7.5" fill="#fff" stroke="#000" stroke-width="3"/>
<path d="M471 777.5 A8 7.5 0 0 0 471 792.5Z" fill="#000"/>
<ellipse cx="529.5" cy="984" rx="9.5" ry="7" transform="rotate(-25 529.5 984)" fill="#fff" stroke="#000" stroke-width="2"/>
<ellipse cx="545.5" cy="973.5" rx="8" ry="5.5" transform="rotate(-25 545.5 973.5)" fill="#fff" stroke="#000" stroke-width="2"/>
</g>
<g id="tube14">
<path d="M1426 1042 C1440 1055 1455 1068 1470 1080 C1490 1094 1510 1106 1540 1120 C1565 1132 1590 1144 1610 1153 L1614 1138 C1590 1128 1566 1116 1544 1106 C1516 1094 1495 1080 1476 1066 C1462 1055 1450 1045 1440 1036Z" fill="#000"/>
<path d="M1456 1022 C1466 1032 1480 1044 1496 1056 C1512 1068 1530 1080 1550 1090 C1572 1101 1598 1112 1628 1124 L1620 1140 C1592 1130 1570 1120 1546 1108 C1524 1097 1506 1086 1490 1074 C1474 1062 1460 1050 1448 1040Z" fill="#fff" stroke="#000" stroke-width="3.5"/>
<ellipse cx="1442" cy="1027.5" rx="17" ry="16" transform="rotate(-30 1442 1027.5)" fill="#fff" stroke="#000" stroke-width="3"/>
<ellipse cx="1442" cy="1029" rx="9.5" ry="9.5" fill="#fff" stroke="#000" stroke-width="3"/>
<path d="M1436 1022 A9 9 0 0 0 1444 1038 Z" fill="#000"/>
<ellipse cx="1614.5" cy="1145" rx="6.5" ry="10" transform="rotate(15 1614.5 1145)" fill="#fff" stroke="#000" stroke-width="2.5"/>
</g>
<g id="overlines" stroke="#000" stroke-width="2" fill="none">
<path d="M1637 882 L1663 896.5"/>
<path d="M1512 814 L1572 847"/>
<path d="M1873 1010.5 L1890 1020 M1881 1010 L1883 1021"/>
</g>
</svg>
</body></html>
